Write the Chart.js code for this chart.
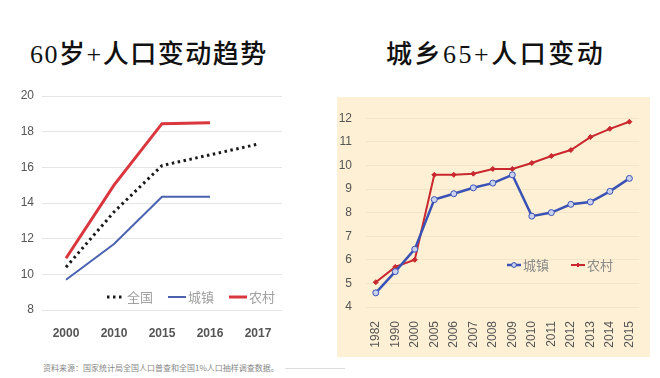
<!DOCTYPE html>
<html>
<head>
<meta charset="utf-8">
<script src="https://cdn.jsdelivr.net/npm/chart.js@4.4.0/dist/chart.umd.min.js"></script>
<style>
  body { margin: 0; width: 660px; height: 378px; background: #fff; position: relative; overflow: hidden;
         font-family: "Liberation Serif", "Noto Sans CJK SC", serif; }
  .title { position: absolute; top: 33px; font-size: 26px; color: #111; white-space: nowrap; font-weight: 500; letter-spacing: 1.5px; }
  #t1 { left: 30px; }
  #t2 { left: 386px; letter-spacing: 2.5px; }
  #leftBox { position: absolute; left: 0; top: 80px; width: 300px; height: 260px; }
  #rightBox { position: absolute; left: 337px; top: 97px; width: 313px; height: 260px; background: #fdf0d5; }
  #source { position: absolute; left: 43px; top: 362px; font-size: 8px; color: #888; font-family: "Noto Sans CJK SC", sans-serif; }
  #source span { display: inline-block; width: 60px; border-top: 1px solid #ddd; vertical-align: middle; margin-left: 6px; }
</style>
</head>
<body>
<div class="title" id="t1">60岁+人口变动趋势</div>
<div class="title" id="t2">城乡65+人口变动</div>
<div id="leftBox"><canvas id="chartLeft"></canvas></div>
<div id="rightBox"><canvas id="chartRight"></canvas></div>
<div id="source">资料来源：国家统计局全国人口普查和全国1%人口抽样调查数据。<span></span></div>
<script>
// left chart: 60+
const yearsLeft = ['2000', '2010', '2015', '2016', '2017'];
const nationLeft = [10.4, 13.5, 16.1, 16.7, 17.3];
const urbanLeft = [9.7, 11.7, 14.35, 14.35, null];
const ruralLeft = [10.9, 15.0, 18.45, 18.5, null];

// right chart: 65+
const yearsRight = ['1982', '1990', '2000', '2005', '2006', '2007', '2008', '2009', '2010', '2011', '2012', '2013', '2014', '2015'];
const urbanRight = [4.6, 5.5, 6.45, 8.55, 8.8, 9.05, 9.25, 9.6, 7.85, 8.0, 8.35, 8.45, 8.9, 9.45];
const ruralRight = [5.05, 5.7, 6.0, 9.6, 9.6, 9.65, 9.85, 9.85, 10.1, 10.4, 10.65, 11.2, 11.55, 11.85];

const cjk = '"Noto Sans CJK SC", sans-serif';

// simple legend drawn inside the plot area
function legendPlugin(opts) {
  return {
    id: 'innerLegend',
    afterDraw(chart) {
      const ctx = chart.ctx;
      ctx.save();
      ctx.font = opts.font;
      ctx.textBaseline = 'middle';
      let x = opts.x;
      chart.data.datasets.forEach(ds => {
        ctx.strokeStyle = ds.borderColor;
        ctx.lineWidth = ds.borderWidth;
        ctx.setLineDash(ds.borderDash || []);
        ctx.beginPath();
        ctx.moveTo(x, opts.y);
        ctx.lineTo(x + opts.lineLen, opts.y);
        ctx.stroke();
        ctx.setLineDash([]);
        if (ds.pointRadius) {
          const cx = x + opts.lineLen / 2;
          const r = ds.pointRadius * 0.8;
          ctx.fillStyle = ds.pointBackgroundColor;
          ctx.strokeStyle = ds.pointBorderColor;
          ctx.lineWidth = ds.pointBorderWidth;
          ctx.beginPath();
          if (ds.pointStyle === 'rectRot') {
            ctx.moveTo(cx, opts.y - r); ctx.lineTo(cx + r, opts.y);
            ctx.lineTo(cx, opts.y + r); ctx.lineTo(cx - r, opts.y); ctx.closePath();
          } else {
            ctx.arc(cx, opts.y, r, 0, Math.PI * 2);
          }
          ctx.fill();
          ctx.stroke();
        }
        ctx.fillStyle = opts.color;
        ctx.fillText(ds.label, x + opts.lineLen + 2, opts.y);
        x += opts.lineLen + 2 + ctx.measureText(ds.label).width + opts.gap;
      });
      ctx.restore();
    }
  };
}

new Chart(document.getElementById('chartLeft'), {
  type: 'line',
  data: {
    labels: yearsLeft,
    datasets: [
      { label: '全国', data: nationLeft, borderColor: '#1a1a1a', borderWidth: 3, borderDash: [2.5, 3.5], borderCapStyle: 'butt', pointRadius: 0, tension: 0 },
      { label: '城镇', data: urbanLeft, borderColor: '#4a62b0', borderWidth: 2, pointRadius: 0, tension: 0 },
      { label: '农村', data: ruralLeft, borderColor: '#d9363e', borderWidth: 3, pointRadius: 0, tension: 0 }
    ]
  },
  options: {
    responsive: true,
    maintainAspectRatio: false,
    animation: false,
    layout: { padding: { top: 16, right: 18, bottom: 0, left: 0 } },
    scales: {
      x: {
        offset: true,
        grid: { display: false },
        border: { display: false },
        ticks: { color: '#555', font: { size: 12, family: 'Liberation Sans', weight: 'bold' }, padding: 8 },
        afterFit: s => { s.height = 30; }
      },
      y: {
        min: 8, max: 20,
        ticks: { stepSize: 2, color: '#555', font: { size: 12, family: 'Liberation Sans' }, padding: 8 },
        grid: { color: '#e6e6e6', drawTicks: false },
        border: { display: false },
        afterFit: s => { s.width = 42; }
      }
    },
    plugins: { legend: { display: false }, tooltip: { enabled: false } }
  },
  plugins: [legendPlugin({ x: 107, y: 217, lineLen: 18, gap: 15, font: '13px ' + cjk, color: '#a0a0a0' })]
});

new Chart(document.getElementById('chartRight'), {
  type: 'line',
  data: {
    labels: yearsRight,
    datasets: [
      { label: '城镇', data: urbanRight, borderColor: '#3a52b5', borderWidth: 2.5, pointStyle: 'circle', pointRadius: 3,
        pointBackgroundColor: '#c9d1ef', pointBorderColor: '#3a52b5', pointBorderWidth: 1, tension: 0 },
      { label: '农村', data: ruralRight, borderColor: '#c8282e', borderWidth: 2, pointStyle: 'rectRot', pointRadius: 2.5,
        pointBackgroundColor: '#c8282e', pointBorderColor: '#c8282e', pointBorderWidth: 1, tension: 0 }
    ]
  },
  options: {
    responsive: true,
    maintainAspectRatio: false,
    animation: false,
    layout: { padding: { top: 16, right: 6, bottom: 0, left: 0 } },
    scales: {
      x: {
        offset: true,
        grid: { display: false },
        border: { display: false },
        ticks: { color: '#555', font: { size: 12, family: 'Liberation Sans' }, padding: 6, minRotation: 90, maxRotation: 90, autoSkip: false },
        afterFit: s => { s.height = 50; }
      },
      y: {
        min: 4, max: 12,
        ticks: { stepSize: 1, color: '#555', font: { size: 12, family: 'Liberation Sans' }, padding: 14 },
        grid: { color: '#f3e5c6', drawTicks: false },
        border: { display: false },
        afterFit: s => { s.width = 29; }
      }
    },
    plugins: { legend: { display: false }, tooltip: { enabled: false } }
  },
  plugins: [legendPlugin({ x: 170, y: 168, lineLen: 14, gap: 22, font: '13px ' + cjk, color: '#8a8a8a' })]
});
</script>
</body>
</html>
